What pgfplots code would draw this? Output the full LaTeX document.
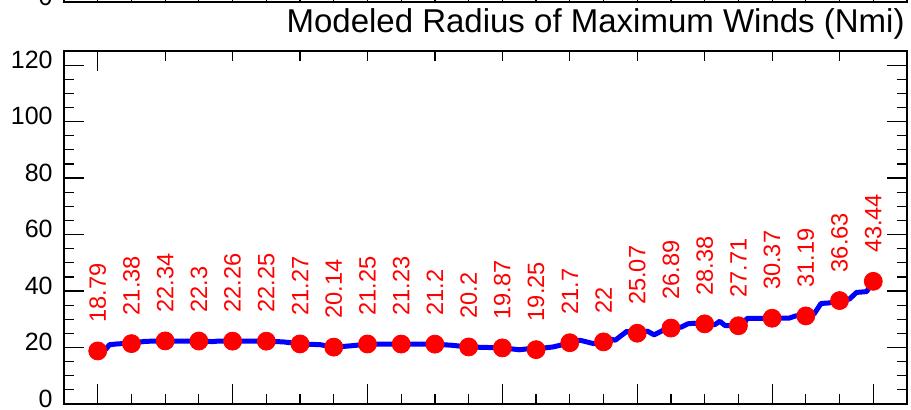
\documentclass[border=0pt]{standalone}
\usepackage{pgfplots}
\pgfplotsset{compat=1.18}
\usepackage{pgfplotstable}
\usepackage{fontspec}
\setmainfont{Liberation Sans}
\usetikzlibrary{calc}

\pgfplotstableread{
x y lab
0 18.79 18.79
1 21.38 21.38
2 22.34 22.34
3 22.3 22.3
4 22.26 22.26
5 22.25 22.25
6 21.27 21.27
7 20.14 20.14
8 21.25 21.25
9 21.23 21.23
10 21.2 21.2
11 20.2 20.2
12 19.87 19.87
13 19.25 19.25
14 21.7 21.7
15 22 22
16 25.07 25.07
17 26.89 26.89
18 28.38 28.38
19 27.71 27.71
20 30.37 30.37
21 31.19 31.19
22 36.63 36.63
23 43.44 43.44
}\pts

\pgfplotstableread{
x y
0 18.79
0.25 19.5
0.35 21.0
0.6 21.3
1 21.5
1.4 22.2
2 22.3
3 22.3
3.4 22.1
3.6 22.3
4 22.3
5 22.25
5.5 22.0
6 21.3
6.6 21.0
7 20.1
7.5 20.6
8 21.2
9 21.2
10 21.2
10.5 20.8
11 20.2
11.6 20.0
12 19.9
12.5 19.2
12.8 19.6
13 19.5
13.5 20.2
14 21.6
14.3 22.6
14.5 22.0
14.7 21.4
15 22.0
15.2 23.0
15.35 22.6
15.5 24.0
15.7 25.8
15.85 24.6
16 25.0
16.3 25.8
16.5 24.5
16.8 26.3
17 26.9
17.3 27.2
17.5 28.4
17.7 28.6
18 28.4
18.3 28.1
18.45 29.3
18.6 27.8
19 27.7
19.15 27.7
19.25 30.3
20 30.37
20.5 30.4
20.7 31.2
21 31.2
21.25 32.0
21.45 35.6
21.7 35.8
22 36.63
22.3 37.2
22.5 39.5
22.8 39.8
23 43.44
}\line

\begin{document}
\begin{tikzpicture}
\begin{axis}[name=main,
  scale only axis, width=421.5pt, height=176.5pt,
  xmin=-1, xmax=24, ymin=0, ymax=125,
  axis line style={line width=0.8pt},
  tick align=inside,
  major tick length=10pt, minor tick length=5pt,
  every tick/.style={black, line width=0.6pt},
  xtick={0,4,8,12,16,20,23}, xticklabels={},
  minor xtick={0,...,23},
  xtick pos=left,
  ytick={0,20,...,120}, minor ytick={5,10,...,125},
  ytick pos=both, yticklabel pos=left,
  /pgf/number format/assume math mode=true,
  yticklabel style={font=\fontsize{12.5}{14}\selectfont, anchor=east, inner sep=0pt, xshift=-5.5pt, yshift=2.7pt},
  clip=false,
]
\addplot[blue, line width=2.5pt, line join=round] table[x=x,y=y] {\line};
\addplot[only marks, mark=*, mark size=4.5pt, red, mark options={fill=red, draw=red},
  point meta=explicit symbolic,
  nodes near coords,
  every node near coord/.style={font=\fontsize{11.8}{13}\selectfont, text=red, rotate=90, anchor=west, inner xsep=14pt, inner ysep=0pt},
] table[x=x,y=y,meta=lab] {\pts};
\node[anchor=base east, font=\fontsize{16.5}{19}\selectfont, inner sep=0pt] at ([xshift=-1pt,yshift=9.5pt]rel axis cs:1,1) {Modeled Radius of Maximum Winds (Nmi)};
\end{axis}
\begin{axis}[at={(main.south west)}, anchor=south west,
  scale only axis, width=421.5pt, height=176.5pt,
  xmin=-1, xmax=24, ymin=0, ymax=125,
  axis line style={draw=none},
  tick align=inside,
  major tick length=10pt, minor tick length=5pt,
  every tick/.style={black, line width=0.6pt},
  xtick={0}, xticklabels={}, minor xtick={2,4,...,22},
  xtick pos=right,
  ytick=\empty,
]
\end{axis}
\begin{axis}[at={($(main.north west)+(0,24.5pt)$)}, anchor=south west,
  scale only axis, width=421.5pt, height=100pt,
  xmin=-1, xmax=24, ymin=0, ymax=100,
  axis line style={line width=0.8pt},
  tick align=inside,
  major tick length=5pt,
  every tick/.style={black, line width=0.6pt},
  xtick={0,...,23}, xticklabels={},
  xtick pos=left,
  ytick={0}, ytick pos=both, yticklabel pos=left,
  /pgf/number format/assume math mode=true,
  yticklabel style={font=\fontsize{12.5}{14}\selectfont, anchor=east, inner sep=0pt, xshift=-5.5pt, yshift=2.7pt},
]
\end{axis}
\pgfresetboundingbox
\path[use as bounding box] ($(main.south west)+(-32pt,-2.5pt)$) rectangle ($(main.north east)+(2pt,25.5pt)$);
\end{tikzpicture}
\end{document}
